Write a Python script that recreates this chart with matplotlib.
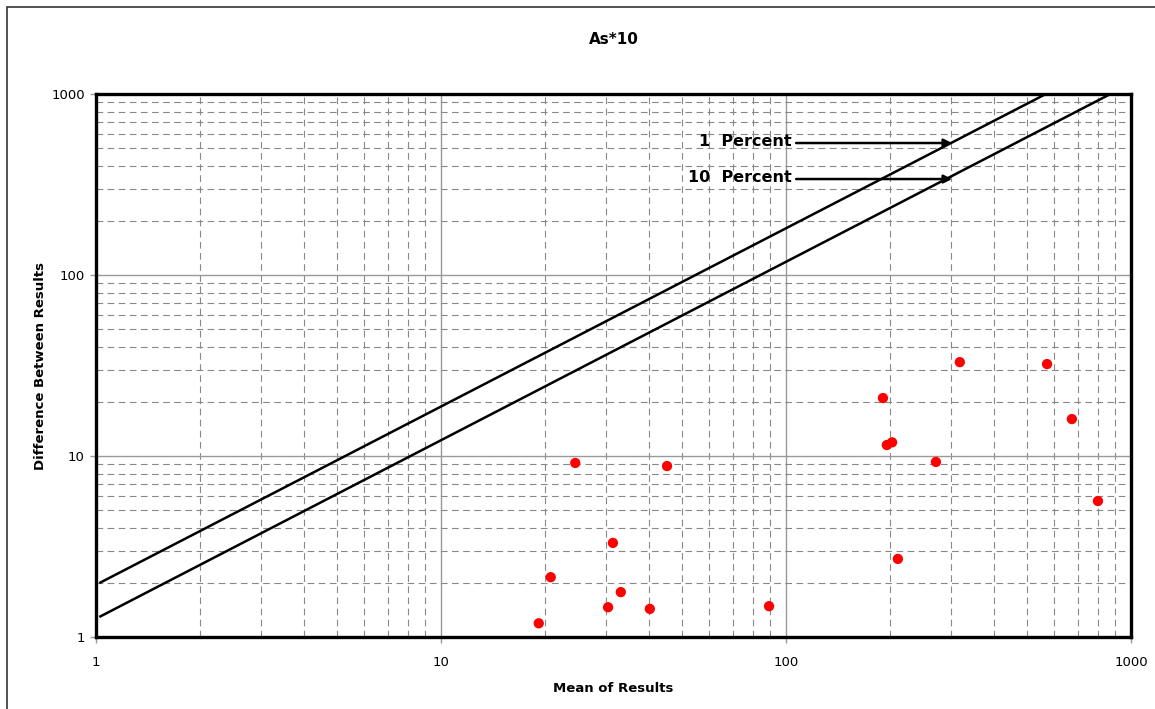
import numpy as np
import matplotlib.pyplot as plt
from matplotlib.patches import Rectangle
from matplotlib.ticker import LogLocator, NullFormatter

# duplicate pairs: mean vs absolute difference
mean_vals = [19.2, 20.8, 24.5, 30.5, 31.5, 33.2, 40.3, 45.2, 89.3,
             191, 196, 203, 211, 272, 319, 571, 674, 802]
diff_vals = [1.19, 2.14, 9.15, 1.46, 3.31, 1.77, 1.43, 8.8, 1.48,
             20.9, 11.5, 11.9, 2.70, 9.27, 33.0, 32.2, 16.0, 5.64]

# control limit lines, drawn as end points on the log-log axes
line_x = [1.03, 1000]
one_pct_y = [2.0, 1750]
ten_pct_y = [1.3, 1145]

tick_vals = [1, 10, 100, 1000]
tick_labels = ['1', '10', '100', '1000']

fig = plt.figure(figsize=(11.55, 7.09), dpi=100)
ax = fig.add_axes([96 / 1155, 1 - 637 / 709, (1131 - 96) / 1155, (637 - 94) / 709])

# outer frame around the whole sheet (right/bottom run off the page)
fig.patches.append(Rectangle((7 / 1155, -0.05), 1.1, 1 - 7 / 709 + 0.05,
                             transform=fig.transFigure, fill=False,
                             edgecolor='#333333', lw=1.2))

ax.set_xscale('log')
ax.set_yscale('log')
ax.set_xlim(1, 1000)
ax.set_ylim(1, 1000)

ax.xaxis.set_minor_locator(LogLocator(base=10, subs=np.arange(2, 10), numticks=20))
ax.yaxis.set_minor_locator(LogLocator(base=10, subs=np.arange(2, 10), numticks=20))
ax.set_xticks(tick_vals)
ax.set_yticks(tick_vals)
ax.set_xticklabels(tick_labels)
ax.set_yticklabels(tick_labels)
ax.xaxis.set_minor_formatter(NullFormatter())
ax.yaxis.set_minor_formatter(NullFormatter())

ax.grid(which='major', color='#999999', lw=1.0, ls='-')
ax.grid(which='minor', color='#888888', lw=0.8, ls=(0, (6, 4)))
ax.tick_params(which='major', length=4, width=1, color='#999999',
               labelsize=9.5, pad=4)
ax.tick_params(axis='x', which='major', pad=10)
ax.tick_params(which='minor', length=0)
ax.set_axisbelow(True)

for sp in ax.spines.values():
    sp.set_linewidth(2.4)
    sp.set_color('black')

ax.plot(line_x, one_pct_y, color='black', lw=1.8, zorder=3)
ax.plot(line_x, ten_pct_y, color='black', lw=1.8, zorder=3)

ax.scatter(mean_vals, diff_vals, s=55, color='#ff0000', edgecolors='none', zorder=4)

ax.annotate('', xy=(303, 536), xytext=(107, 536),
            arrowprops=dict(arrowstyle='-|>', color='black', lw=1.8,
                            mutation_scale=12, shrinkA=0, shrinkB=0), zorder=5)
ax.annotate('', xy=(303, 339), xytext=(107, 339),
            arrowprops=dict(arrowstyle='-|>', color='black', lw=1.8,
                            mutation_scale=12, shrinkA=0, shrinkB=0), zorder=5)
ax.text(104, 545, '1  Percent', ha='right', va='center', fontsize=11.5,
        fontweight='bold', zorder=5)
ax.text(104, 345, '10  Percent', ha='right', va='center', fontsize=11.5,
        fontweight='bold', zorder=5)

ax.set_title('As*10', fontsize=11, fontweight='bold', pad=36)
ax.set_xlabel('Mean of Results', fontsize=9.5, fontweight='bold', labelpad=9)
ax.set_ylabel('Difference Between Results', fontsize=9.5, fontweight='bold', labelpad=3)

fig.savefig('out.png', dpi=100)
